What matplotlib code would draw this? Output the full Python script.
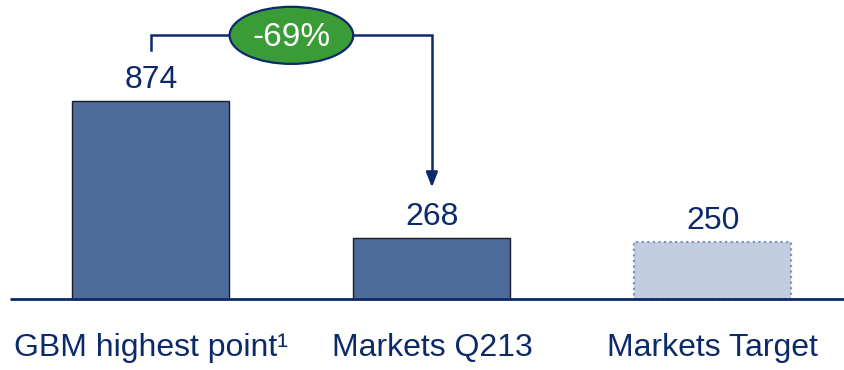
import matplotlib.pyplot as plt
from matplotlib.patches import Ellipse

plt.rcParams['font.family'] = ['Liberation Sans', 'DejaVu Sans']

categories = ['GBM highest point\u00b9', 'Markets Q213', 'Markets Target']
values = [874, 268, 250]
is_target = [False, False, True]

navy = '#0c2a6a'
bar_blue = '#4d6b9b'
target_fill = '#c3cde0'
target_edge = '#7a90bd'
green = '#3a9c36'

fig = plt.figure(figsize=(8.45, 3.70), dpi=100)
ax = fig.add_axes([0, 0, 1, 1])
ax.set_xlim(-0.537, 2.47)
ax.set_ylim(-313, 1320)
ax.axis('off')

for i, v in enumerate(values):
    if is_target[i]:
        ax.bar(i, v, width=0.559, color=target_fill, edgecolor=target_edge,
               linewidth=1.6, linestyle=(0, (1, 1.5)), zorder=2)
    else:
        ax.bar(i, v, width=0.559, color=bar_blue, edgecolor='#1a1a2a',
               linewidth=1.0, zorder=2)
    ax.annotate(str(v), (i, v), xytext=(0, 9.5), textcoords='offset points',
                ha='center', va='baseline', fontsize=23, color=navy)

# baseline
ax.plot([-0.5, 2.47], [0, 0], color=navy, lw=2, zorder=3, solid_capstyle='butt')

# category labels under the axis
for i, c in enumerate(categories):
    ax.annotate(c, (i, 0), xytext=(0, -41), textcoords='offset points',
                ha='center', va='baseline', fontsize=23, color=navy)

# change connector from first to second bar
top = values[0] + 290
tip = values[1] + 225
ax.plot([0, 0, 1, 1], [values[0] + 225, top, top, tip + 40], color=navy, lw=1.8,
        solid_joinstyle='miter', zorder=3)
ax.annotate('', xy=(1, tip), xytext=(1, tip + 60),
            arrowprops=dict(arrowstyle='-|>,head_length=0.9,head_width=0.35',
                            color=navy, lw=1.8, shrinkA=0, shrinkB=0))

change = round((values[1] / values[0] - 1) * 100)
ax.add_patch(Ellipse((0.5, top), 0.44, 252, facecolor=green, edgecolor=navy,
                     lw=1.6, zorder=4))
ax.text(0.5, top - 8, f'{change}%', ha='center', va='center', fontsize=24,
        color='white', zorder=5)

fig.savefig('out.png', dpi=100)
